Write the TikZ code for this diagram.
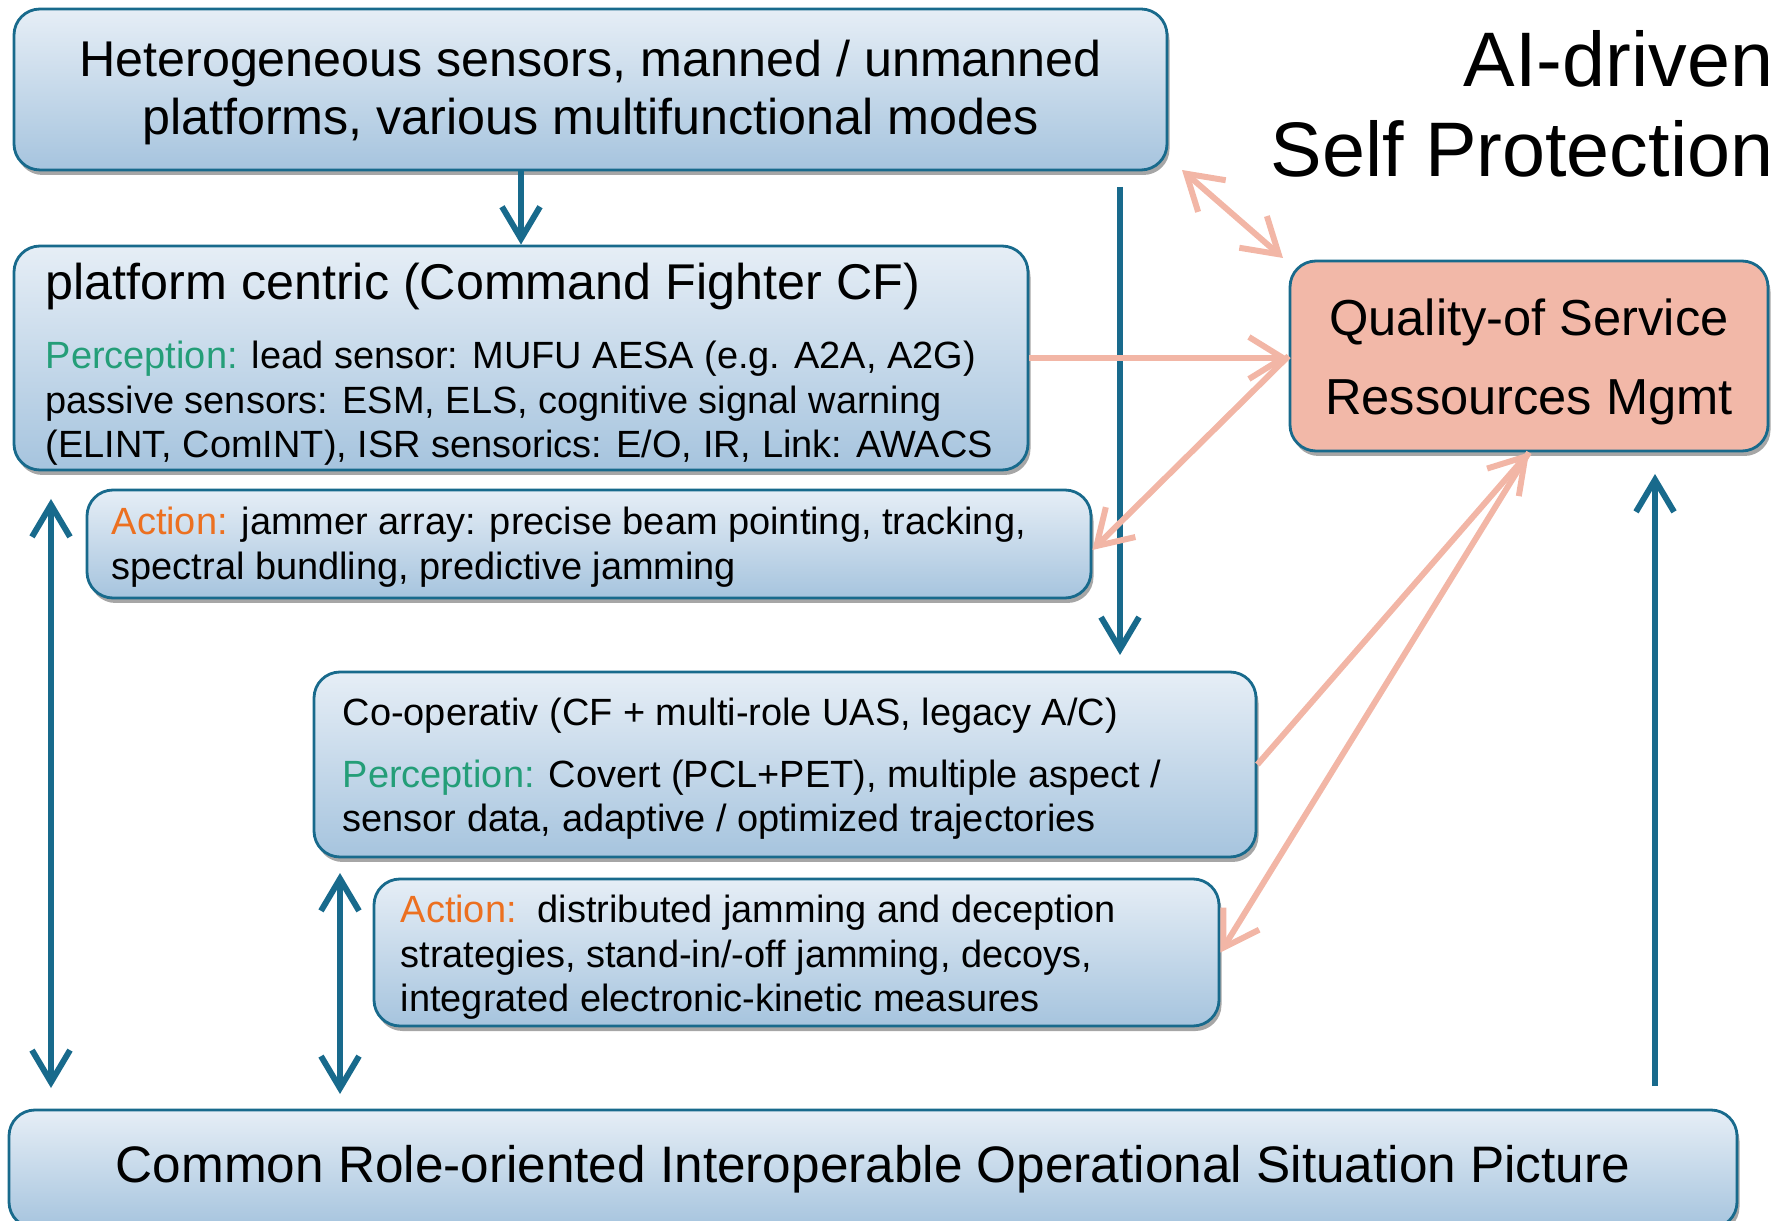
\documentclass[tikz,border=0pt]{standalone}
\usepackage{fontspec}
\setmainfont{Liberation Sans}
\usetikzlibrary{arrows.meta,shadows}

\definecolor{tealb}{RGB}{24,106,140}
\definecolor{boxtop}{RGB}{230,238,246}
\definecolor{boxbot}{RGB}{166,196,222}
\definecolor{qosfill}{RGB}{242,184,168}
\definecolor{salmon}{RGB}{242,182,166}
\definecolor{perc}{RGB}{36,158,120}
\definecolor{actc}{RGB}{236,112,32}

\tikzset{
  panel/.style={draw=tealb, line width=0.8pt, rounded corners=2.6mm,
    top color=boxtop, bottom color=boxbot, inner sep=0pt,
    drop shadow={shadow xshift=0.25mm, shadow yshift=-0.5mm, opacity=0.35, fill=black}},
  qospanel/.style={draw=tealb, line width=0.8pt, rounded corners=2.6mm,
    fill=qosfill, inner sep=0pt,
    drop shadow={shadow xshift=0.25mm, shadow yshift=-0.5mm, opacity=0.35, fill=black}},
  bigtext/.style={inner sep=0pt, font=\fontsize{14.3}{16.5}\selectfont},
  bodytext/.style={inner sep=0pt, anchor=base west, font=\fontsize{10.8}{12.7}\selectfont},
  tealarrow/.style={draw=tealb, line width=1.7pt, -{Straight Barb[length=3.2mm,width=3.8mm]}},
  tealboth/.style={draw=tealb, line width=1.7pt, {Straight Barb[length=3.2mm,width=3.8mm]}-{Straight Barb[length=3.2mm,width=3.8mm]}},
  salarrow/.style={draw=salmon, line width=1.7pt, -{Straight Barb[length=3.4mm,width=4.2mm]}},
  salboth/.style={draw=salmon, line width=1.7pt, {Straight Barb[length=3.4mm,width=4.2mm]}-{Straight Barb[length=3.4mm,width=4.2mm]}},
}

\begin{document}
\begin{tikzpicture}[x=0.1mm, y=-0.1mm]
\useasboundingbox (0,0) rectangle (1777,1221);

% boxes
\node[panel, minimum width=115.3mm, minimum height=16.1mm] (top) at (590.5,89.5) {};
\node[inner sep=0pt, align=center, font=\fontsize{14.3}{16.5}\selectfont] (toptext) at (590.5,93)
  {Heterogeneous sensors, manned / unmanned\\platforms, various multifunctional modes};
\node[panel, minimum width=101.4mm, minimum height=22.4mm] (plat) at (521,358) {};
\node[panel, minimum width=100.4mm, minimum height=10.8mm] (act1) at (589,544) {};
\node[panel, minimum width=94.2mm, minimum height=18.5mm] (coop) at (785,764.5) {};
\node[panel, minimum width=84.5mm, minimum height=14.7mm] (act2) at (796.5,952.5) {};
\node[panel, minimum width=172.8mm, minimum height=11.8mm,
      font=\fontsize{14.6}{16.8}\selectfont] (cop) at (873,1169)
  {Common Role-oriented Interoperable Operational Situation Picture};
\node[qospanel, minimum width=47.8mm, minimum height=19mm] (qos) at (1529,356) {};
\node[inner sep=0pt, align=center, font=\fontsize{14.4}{22.7}\selectfont] (qostext) at (1529,362)
  {Quality-of Service\\Ressources Mgmt};

% title
\node[inner sep=0pt, anchor=east, align=right, font=\fontsize{22}{25.5}\selectfont] (ttl) at (1774,104)
  {AI-driven\\Self Protection};

% platform centric box
\node[bigtext, anchor=base west] (pt) at (45,300) {platform centric (Command Fighter CF)};
\node[bodytext] (pl1) at (45,369) {\textcolor{perc}{Perception:} lead sensor: MUFU AESA (e.g. A2A, A2G)};
\node[bodytext] (pl2) at (45,414) {passive sensors: ESM, ELS, cognitive signal warning};
\node[bodytext] (pl3) at (45,458) {(ELINT, ComINT), ISR sensorics: E/O, IR, Link: AWACS};

% platform action box
\node[bodytext] (a1l1) at (111,535) {\textcolor{actc}{Action:} jammer array: precise beam pointing, tracking,};
\node[bodytext] (a1l2) at (111,580) {spectral bundling, predictive jamming};

% co-operative box
\node[bodytext] (ct) at (342,726) {Co-operativ (CF + multi-role UAS, legacy A/C)};
\node[bodytext] (cl1) at (342,788) {\textcolor{perc}{Perception:} Covert (PCL+PET), multiple aspect /};
\node[bodytext] (cl2) at (342,832) {sensor data, adaptive / optimized trajectories};

% co-operative action box
\node[bodytext] (a2l1) at (400,922) {\textcolor{actc}{Action:}\ \ distributed jamming and deception};
\node[bodytext] (a2l2) at (400,967) {strategies, stand-in/-off jamming, decoys,};
\node[bodytext] (a2l3) at (400,1011) {integrated electronic-kinetic measures};

% free ends of the vertical connectors
\coordinate (dnA) at (1120,187);
\coordinate (dnB) at (1120,655);
\coordinate (lfA) at (51,499);
\coordinate (lfB) at (51,1088);
\coordinate (mdA) at (340,873);
\coordinate (mdB) at (340,1094);
\coordinate (rtA) at (1655,1086);
\coordinate (rtB) at (1655,474);
\coordinate (sA) at (1182,170);
\coordinate (sB) at (1283,258);

% teal connectors
\draw[tealarrow] (plat.north |- top.south) -- (plat.north);
\draw[tealarrow] (dnA) -- (dnB);
\draw[tealboth] (lfA) -- (lfB);
\draw[tealboth] (mdA) -- (mdB);
\draw[tealarrow] (rtA) -- (rtB);

% salmon connectors
\draw[salboth] (sA) -- (sB);
\draw[salarrow] (plat.east) -- (plat.east -| qos.west);
\draw[salarrow] (qos.west) -- ([yshift=-0.6mm]act1.east);
\draw[salarrow] (coop.east) -- (qos.south);
\draw[salarrow] (qos.south) -- (act2.east);
\end{tikzpicture}
\end{document}
